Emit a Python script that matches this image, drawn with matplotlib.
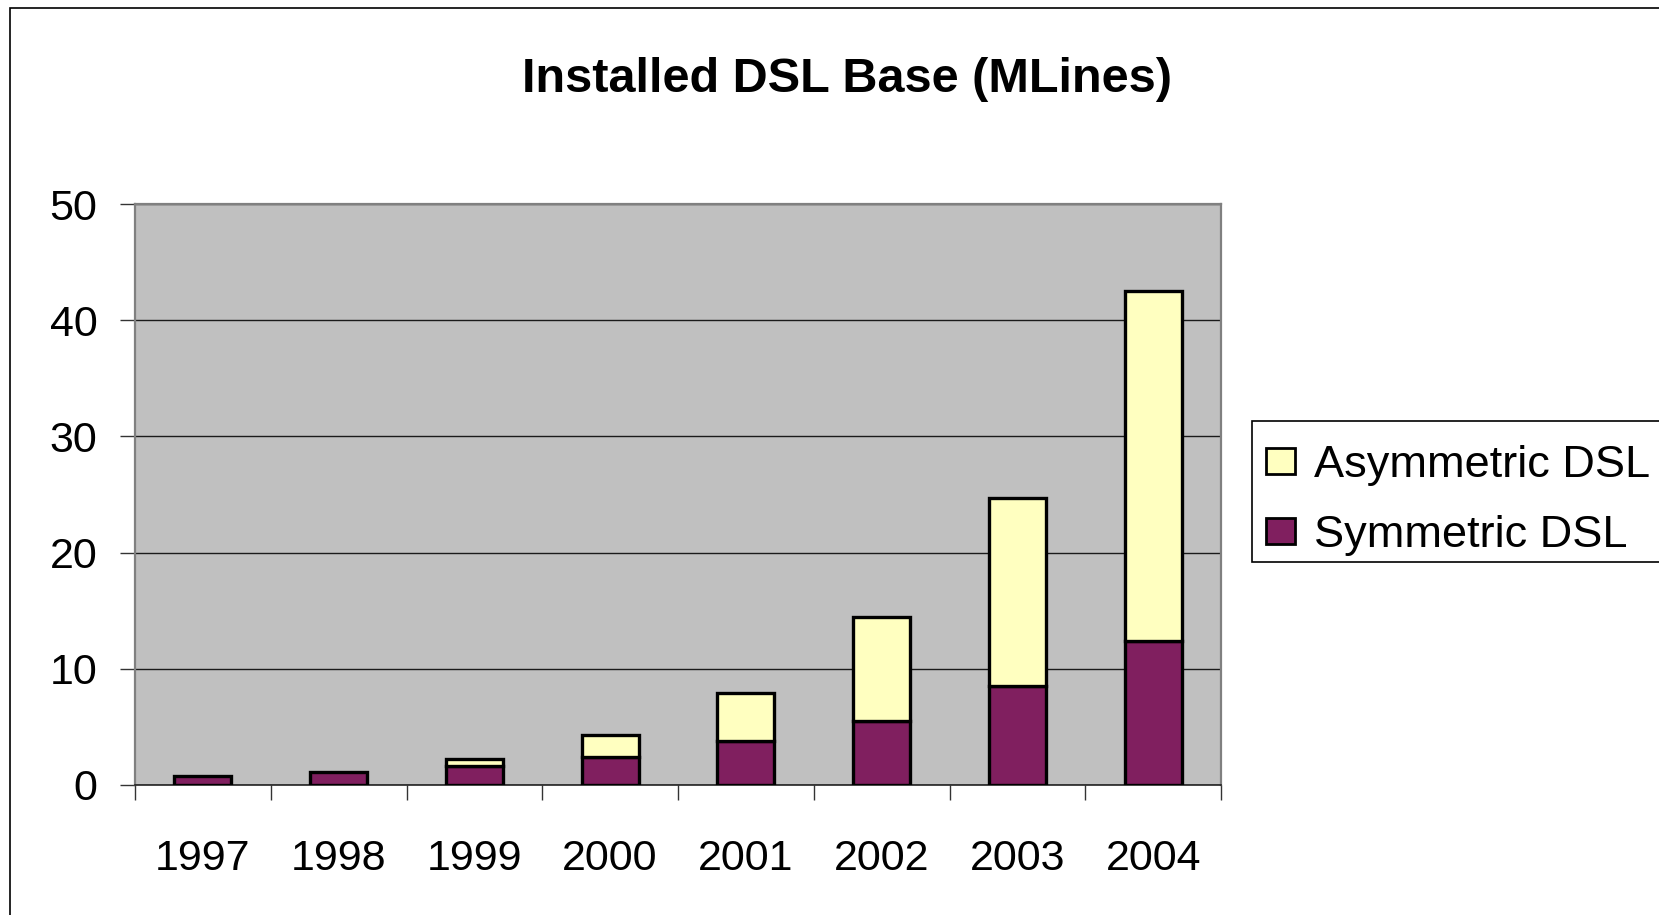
import matplotlib
matplotlib.use("Agg")
import matplotlib.pyplot as plt
from matplotlib.patches import Rectangle
import numpy as np

years = ["1997", "1998", "1999", "2000", "2001", "2002", "2003", "2004"]
symmetric = [0.8, 1.1, 1.6, 2.4, 3.8, 5.5, 8.5, 12.4]
asymmetric = [0.0, 0.0, 0.6, 1.9, 4.1, 9.0, 16.2, 30.1]
yticks = [0, 10, 20, 30, 40, 50]
title = "Installed DSL Base (MLines)"
labels = ["Asymmetric DSL", "Symmetric DSL"]

W, H = 1659, 915
plt.rcParams['font.family'] = ['Liberation Sans', 'DejaVu Sans']

fig = plt.figure(figsize=(W / 100, H / 100), dpi=100)
fig.patch.set_facecolor('white')

ax = fig.add_axes([135 / W, 1 - 785 / H, (1221 - 135) / W, (785 - 204) / H])
ax.set_facecolor('#C0C0C0')

x = np.arange(len(years))
purple = '#801F5F'
yellow = '#FFFFC0'
bw = 0.42
b1 = ax.bar(x, symmetric, width=bw, color=purple, edgecolor='black', linewidth=2.4, zorder=3, label=labels[1])
b2 = ax.bar(x, asymmetric, width=bw, bottom=symmetric, color=yellow, edgecolor='black', linewidth=2.4, zorder=3,
            label=labels[0])
for rect, v in zip(b2, asymmetric):
    if v == 0:
        rect.set_visible(False)

ax.set_xlim(-0.5, len(years) - 0.5)
ax.set_ylim(0, 50)
ax.set_yticks(yticks)
ax.set_yticklabels([str(t) for t in yticks])
ax.yaxis.grid(True, color='#1a1a1a', linewidth=1.0, zorder=1)
ax.set_axisbelow(True)

ax.set_xticks(x)
ax.set_xticklabels(years)
ax.set_xticks(np.arange(-0.5, len(years), 1.0), minor=True)
ax.tick_params(axis='x', which='major', length=0, pad=39, labelsize=31)
ax.tick_params(axis='x', which='minor', length=11, width=1.0, direction='out', color='#333333')
ax.tick_params(axis='y', which='major', length=11, width=1.0, direction='out', pad=16, labelsize=31,
               color='#333333')

for side in ['top', 'right', 'left']:
    ax.spines[side].set_color('#808080')
    ax.spines[side].set_linewidth(1.6)
ax.spines['bottom'].set_color('#222222')
ax.spines['bottom'].set_linewidth(1.2)

fig.text(847 / W, 1 - 80 / H, title, ha='center', va='center', fontsize=35, fontweight='bold')

# legend (drawn in figure pixel coordinates)
def fx(px):
    return px / W

def fy(py):
    return 1 - py / H

fig.patches.append(Rectangle((fx(1252), fy(562)), fx(1700) - fx(1252), fy(421) - fy(562),
                             transform=fig.transFigure, facecolor='white', edgecolor='black', linewidth=1.2))
leg_rows = [(labels[0], yellow, 461), (labels[1], purple, 531)]
for lab, col, cy in leg_rows:
    fig.patches.append(Rectangle((fx(1266), fy(cy + 13)), fx(1295) - fx(1266), fy(cy - 13) - fy(cy + 13),
                                 transform=fig.transFigure, facecolor=col, edgecolor='black', linewidth=2.0))
    fig.text(fx(1314), fy(cy), lab, ha='left', va='center_baseline', fontsize=32.5)

# outer chart border (left and top visible)
fig.patches.append(Rectangle((10 / W, -0.2), 1.5, 1.2 - 8 / H, transform=fig.transFigure,
                             fill=False, edgecolor='black', linewidth=1.2))

fig.savefig('out.png', dpi=100)
